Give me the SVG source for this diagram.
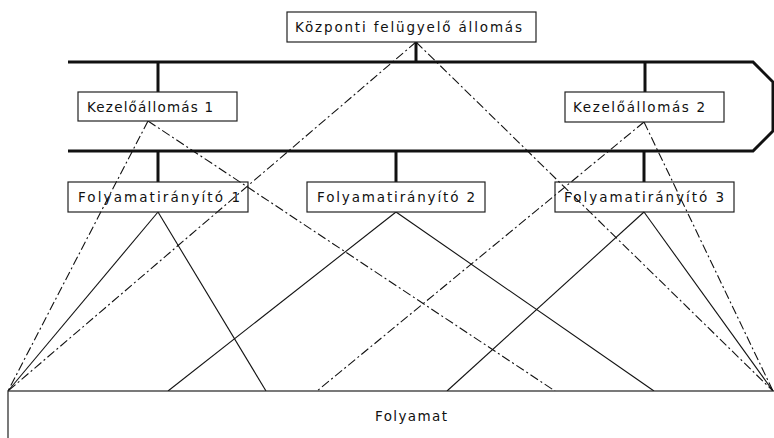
<svg xmlns="http://www.w3.org/2000/svg" width="774" height="438" viewBox="0 0 774 438">
<style>
.box{fill:#fff;stroke:#222;stroke-width:1.2}
.lbl{font-family:"DejaVu Sans","Liberation Sans",sans-serif;font-size:13.5px;fill:#111}
.bus{fill:none;stroke:#111;stroke-width:3;stroke-linejoin:miter}
.stub{stroke:#111;stroke-width:3}
.solid{stroke:#111;stroke-width:1.1;fill:none}
.dd{stroke:#111;stroke-width:1.1;fill:none;stroke-dasharray:9,3,2,3}
</style>
<rect width="774" height="438" fill="#fff"/>
<g id="connectors">
<polyline class="bus" points="68,62 753,62 773,82 773,131 753,151 68,151"/>
<line class="stub" x1="416" y1="42" x2="416" y2="62"/>
<line class="stub" x1="158" y1="62" x2="158" y2="92"/>
<line class="stub" x1="645" y1="62" x2="645" y2="92"/>
<line class="stub" x1="158" y1="151" x2="158" y2="182"/>
<line class="stub" x1="396" y1="151" x2="396" y2="182"/>
<line class="stub" x1="644" y1="151" x2="644" y2="182"/>
<line class="solid" x1="158" y1="212" x2="8" y2="391"/>
<line class="solid" x1="158" y1="212" x2="266" y2="391"/>
<line class="solid" x1="396" y1="212" x2="168" y2="391"/>
<line class="solid" x1="396" y1="212" x2="654" y2="391"/>
<line class="solid" x1="644" y1="212" x2="447" y2="391"/>
<line class="solid" x1="644" y1="212" x2="773" y2="391"/>
<line class="dd" x1="416" y1="42" x2="8" y2="391"/>
<line class="dd" x1="416" y1="42" x2="773" y2="391"/>
<line class="dd" x1="148" y1="121" x2="8" y2="391"/>
<line class="dd" x1="148" y1="121" x2="555" y2="391"/>
<line class="dd" x1="644" y1="122" x2="317" y2="391"/>
<line class="dd" x1="644" y1="122" x2="773" y2="391"/>
</g>
<g id="kozponti">
<rect class="box" x="287" y="12" width="249" height="30"/>
<text class="lbl" x="295" y="32" textLength="227" lengthAdjust="spacing">Központi felügyelő állomás</text>
</g>
<g id="kezelo1">
<rect class="box" x="78" y="92" width="159" height="29"/>
<text class="lbl" x="87" y="112" textLength="126" lengthAdjust="spacing">Kezelőállomás 1</text>
</g>
<g id="kezelo2">
<rect class="box" x="565" y="92" width="159" height="30"/>
<text class="lbl" x="573" y="112" textLength="132" lengthAdjust="spacing">Kezelőállomás 2</text>
</g>
<g id="fi1">
<rect class="box" x="68" y="182" width="180" height="30" fill-opacity="0"/>
<text class="lbl" x="78" y="202" textLength="162" lengthAdjust="spacing">Folyamatirányító 1</text>
</g>
<g id="fi2">
<rect class="box" x="307" y="182" width="178" height="30"/>
<text class="lbl" x="317" y="202" textLength="158" lengthAdjust="spacing">Folyamatirányító 2</text>
</g>
<g id="fi3">
<rect class="box" x="555" y="182" width="179" height="30" fill-opacity="0"/>
<text class="lbl" x="564" y="202" textLength="160" lengthAdjust="spacing">Folyamatirányító 3</text>
</g>
<g id="folyamat">
<rect class="box" x="8" y="391" width="780" height="60"/>
<text class="lbl" x="375" y="421" textLength="72" lengthAdjust="spacing">Folyamat</text>
</g>
</svg>
